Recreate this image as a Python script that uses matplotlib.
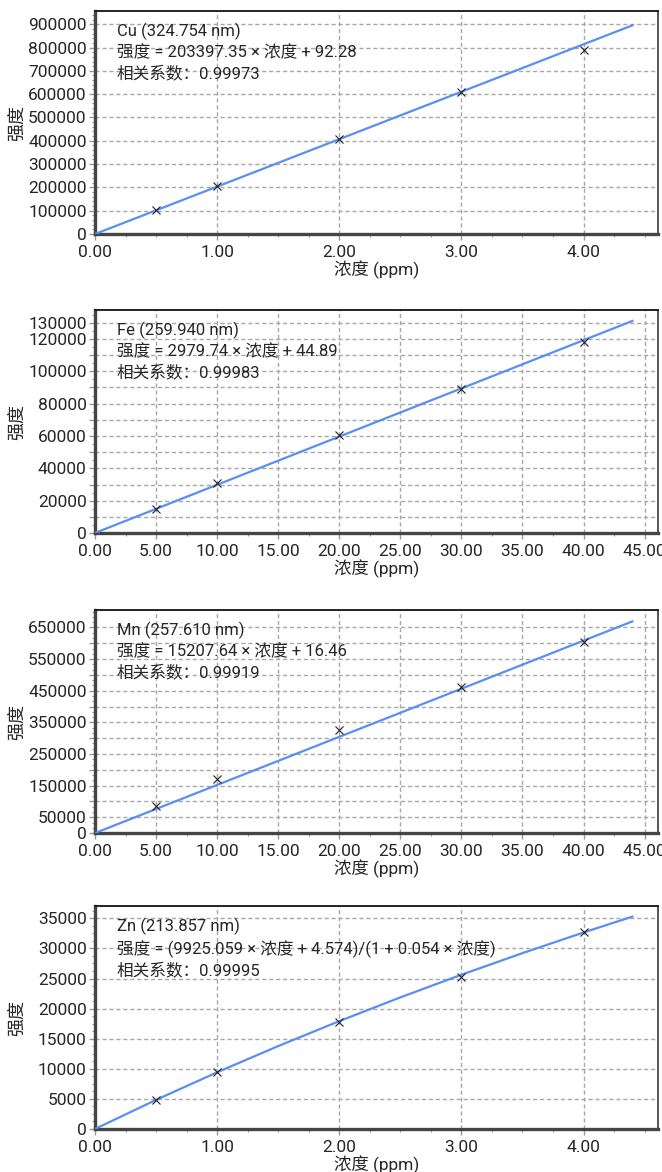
import numpy as np
import matplotlib
matplotlib.use('Agg')
from matplotlib import pyplot as plt
from matplotlib.ticker import AutoMinorLocator, FixedLocator, FixedFormatter

plt.rcParams['font.family'] = ['Roboto', 'Noto Sans CJK SC', 'DejaVu Sans']

# ---- data ----
cu_x = [0.5, 1.0, 2.0, 3.0, 4.0]
cu_y = [102000, 205000, 407000, 608000, 790000]
cu_fit_x = [0.0, 4.4]
cu_fit_y = [92, 895040]

fe_x = [5, 10, 20, 30, 40]
fe_y = [15000, 31000, 60500, 89000, 118000]
fe_fit_x = [0.0, 44.0]
fe_fit_y = [45, 131150]

mn_x = [5, 10, 20, 30, 40]
mn_y = [87000, 170000, 325000, 462000, 605000]
mn_fit_x = [0.0, 44.0]
mn_fit_y = [16, 669150]

zn_x = [0.5, 1.0, 2.0, 3.0, 4.0]
zn_y = [4800, 9400, 17800, 25300, 32800]
zn_fit_x = [0.0, 0.5, 1.0, 1.5, 2.0, 2.5, 3.0, 3.5, 4.0, 4.4]
zn_fit_y = [5, 4836, 9421, 13776, 17920, 21865, 25628, 29220, 32652, 35290]

cu_yticks = [0, 100000, 200000, 300000, 400000, 500000, 600000, 700000, 800000, 900000]
cu_ylabels = ['0', '100000', '200000', '300000', '400000', '500000', '600000', '700000', '800000', '900000']
fe_yticks = [0, 10000, 20000, 30000, 40000, 50000, 60000, 70000, 80000, 90000,
             100000, 110000, 120000, 130000]
fe_ylabels = ['0', '', '20000', '', '40000', '', '60000', '', '80000', '',
              '100000', '', '120000', '130000']
mn_yticks = [0, 50000, 100000, 150000, 200000, 250000, 300000, 350000, 400000,
             450000, 500000, 550000, 600000, 650000]
mn_ylabels = ['0', '50000', '', '150000', '', '250000', '', '350000', '',
              '450000', '', '550000', '', '650000']
zn_yticks = [0, 5000, 10000, 15000, 20000, 25000, 30000, 35000]
zn_ylabels = ['0', '5000', '10000', '15000', '20000', '25000', '30000', '35000']

small_xticks = [0, 1, 2, 3, 4]
small_xlabels = ['0.00', '1.00', '2.00', '3.00', '4.00']
big_xticks = [0, 5, 10, 15, 20, 25, 30, 35, 40, 45]
big_xlabels = ['0.00', '5.00', '10.00', '15.00', '20.00', '25.00', '30.00', '35.00', '40.00', '45.00']

cu_text = ['Cu (324.754 nm)', '强度 = 203397.35 × 浓度 + 92.28', '相关系数：0.99973']
fe_text = ['Fe (259.940 nm)', '强度 = 2979.74 × 浓度 + 44.89', '相关系数：0.99983']
mn_text = ['Mn (257.610 nm)', '强度 = 15207.64 × 浓度 + 16.46', '相关系数：0.99919']
zn_text = ['Zn (213.857 nm)', '强度 = (9925.059 × 浓度 + 4.574)/(1 + 0.054 × 浓度)', '相关系数：0.99995']

panels = [
    (cu_x, cu_y, cu_fit_x, cu_fit_y, cu_yticks, cu_ylabels, 955000, small_xticks, small_xlabels, 4.61, 4, 5, cu_text),
    (fe_x, fe_y, fe_fit_x, fe_fit_y, fe_yticks, fe_ylabels, 137700, big_xticks, big_xlabels, 46.1, 2, 2, fe_text),
    (mn_x, mn_y, mn_fit_x, mn_fit_y, mn_yticks, mn_ylabels, 704000, big_xticks, big_xlabels, 46.1, 2, 3, mn_text),
    (zn_x, zn_y, zn_fit_x, zn_fit_y, zn_yticks, zn_ylabels, 37000, small_xticks, small_xlabels, 4.61, 4, 4, zn_text),
]

fig = plt.figure(figsize=(6.62, 11.72), dpi=100)
bottoms = [0.8003, 0.5452, 0.2892, 0.0367]
text_col = '#262626'

for (px, py, fx, fy, yt, yl, ytop, xt, xl, xright, xminor, yminor, txt), b in zip(panels, bottoms):
    ax = fig.add_axes([0.1435, b, 0.8505, 0.190])
    ax.plot(fx, fy, color='#5b8ef0', lw=1.6, zorder=3)
    ax.plot(px, py, 'x', color='#222222', ms=5.5, mew=0.8, zorder=4)
    ax.set_xlim(0, xright)
    ax.set_ylim(0, ytop)
    ax.yaxis.set_major_locator(FixedLocator(yt))
    ax.yaxis.set_major_formatter(FixedFormatter(yl))
    ax.xaxis.set_major_locator(FixedLocator(xt))
    ax.xaxis.set_major_formatter(FixedFormatter(xl))
    ax.xaxis.set_minor_locator(AutoMinorLocator(xminor))
    ax.yaxis.set_minor_locator(AutoMinorLocator(yminor))
    ax.grid(True, which='major', color='#a8a8a8', ls=(0, (3, 2)), lw=1.0)
    ax.set_axisbelow(True)
    ax.tick_params(which='major', length=4, width=1, color='#999999', labelsize=12.5,
                   labelcolor=text_col, pad=2)
    ax.tick_params(axis='x', which='major', pad=4)
    ax.tick_params(which='minor', length=2.5, width=0.8, color='#999999')
    for s in ['left', 'bottom']:
        ax.spines[s].set_linewidth(2.4)
        ax.spines[s].set_color('#454545')
    ax.spines['top'].set_linewidth(1.4)
    ax.spines['top'].set_color('#222222')
    ax.spines['right'].set_linewidth(1.4)
    ax.spines['right'].set_color('#555555')
    ax.set_xlabel('浓度 (ppm)', fontsize=12.5, color=text_col, labelpad=0)
    ax.set_ylabel('强度', fontsize=13, color=text_col)
    ax.yaxis.set_label_coords(-0.122, 0.5)
    ax.text(0.039, 0.95, '\n'.join(txt), transform=ax.transAxes, ha='left', va='top',
            fontsize=12, color=text_col, linespacing=1.38)

fig.savefig('out.png', dpi=100)
